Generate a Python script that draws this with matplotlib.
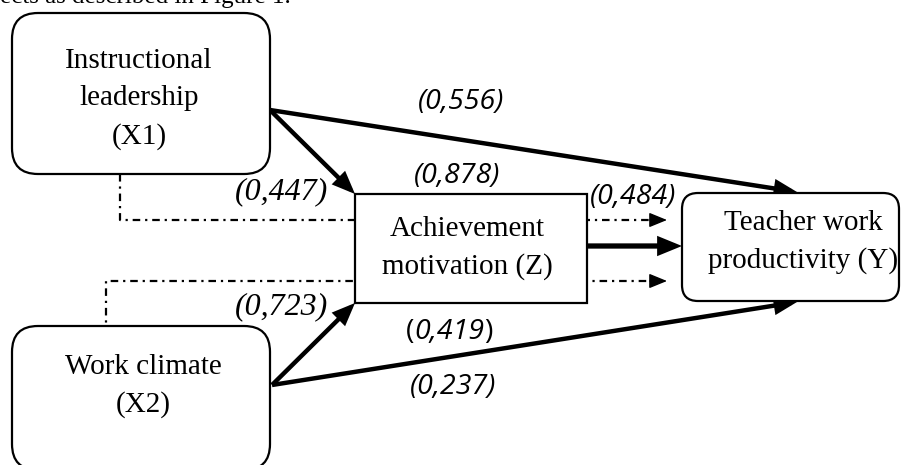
import matplotlib
matplotlib.use("Agg")
import matplotlib.pyplot as plt
from matplotlib.patches import FancyBboxPatch, Rectangle, FancyArrowPatch, ArrowStyle

# ---- data ----
node_names = ["X1", "X2", "Z", "Y"]
node_labels = ["Instructional\nleadership\n(X1)", "Work climate\n(X2)",
               "Achievement\nmotivation (Z)", "Teacher work\nproductivity (Y)"]
direct_coefs = ["(0,556)", "(0,878)", "(0,484)", "(0,237)"]   # X1->Y, X1->Z, Z->Y, X2->Y
indirect_coefs = ["(0,447)", "(0,723)"]                       # X1->Z->Y, X2->Z->Y
mixed_coef = "0,419"
caption = "ects as described in Figure 1."

W, H = 901, 465
fig = plt.figure(figsize=(W / 100, H / 100), dpi=100)
ax = fig.add_axes([0, 0, 1, 1])
ax.set_xlim(0, W)
ax.set_ylim(H, 0)
ax.axis("off")

serif = "Liberation Serif"
sans = "Open Sans"
BOX_FS = 21
LAB_FS = 20.5
LS = 1.58

# caption (cropped at top)
ax.text(0, 3.5, caption, fontsize=18, family=serif, ha="left", va="baseline")

# ---- boxes ----
def rbox(x0, y0, x1, y1, r):
    p = FancyBboxPatch((x0, y0), x1 - x0, y1 - y0,
                       boxstyle=f"round,pad=0,rounding_size={r}",
                       fc="white", ec="black", lw=1.6, zorder=3)
    ax.add_patch(p)

rbox(12, 13, 270, 174, 26)     # X1
rbox(12, 326, 270, 470, 26)    # X2
rbox(682, 193, 899, 301, 16)   # Y
ax.add_patch(Rectangle((355, 194), 232, 109, fc="white", ec="black", lw=1.6, zorder=3))  # Z

ax.text(139, 99, node_labels[0], family=serif, fontsize=BOX_FS, ha="center", va="center",
        linespacing=LS, zorder=4)
ax.text(143, 386, node_labels[1], family=serif, fontsize=BOX_FS, ha="center", va="center",
        linespacing=LS, zorder=4)
ax.text(467, 248, node_labels[2], family=serif, fontsize=BOX_FS, ha="center", va="center",
        linespacing=LS, zorder=4)
ax.text(803, 242, node_labels[3], family=serif, fontsize=BOX_FS, ha="center", va="center",
        linespacing=LS, zorder=4)

# ---- solid arrows ----
head = ArrowStyle("-|>", head_length=11, head_width=4.5)

def arrow(p0, p1, lw=3.2, z=2):
    a = FancyArrowPatch(p0, p1, arrowstyle=head, mutation_scale=1, lw=lw,
                        color="black", shrinkA=0, shrinkB=0, zorder=z,
                        joinstyle="miter", capstyle="butt")
    ax.add_patch(a)

arrow((270, 110), (797, 192))   # X1 -> Y
arrow((270, 110), (355, 194))   # X1 -> Z
arrow((272, 385), (355, 303))   # X2 -> Z
arrow((272, 385), (797, 302))   # X2 -> Y
arrow((587, 246), (682, 246), lw=3.8, z=4)   # Z -> Y

# ---- dash-dot indirect paths ----
dd = (0, (3.4, 2.2, 1.0, 2.2))
ax.plot([120, 120, 655], [174, 220, 220], color="black", lw=1.6, linestyle=dd, zorder=1)
ax.plot([106, 106, 655], [335, 281, 281], color="black", lw=1.6, linestyle=dd, zorder=1)
for yy in (220, 281):
    a = FancyArrowPatch((650, yy), (667, yy), arrowstyle=head, mutation_scale=1, lw=1.0,
                        color="black", shrinkA=0, shrinkB=0, zorder=4)
    ax.add_patch(a)

# ---- coefficient labels ----
def slab(x, y, s):
    ax.text(x, y, s, family=sans, style="italic", fontsize=LAB_FS, ha="center", va="center", zorder=5)

slab(461, 102, direct_coefs[0])
slab(457, 176, direct_coefs[1])
slab(633, 197, direct_coefs[2])
slab(453, 387, direct_coefs[3])

ax.text(281, 192, indirect_coefs[0], family=serif, style="italic", fontsize=23,
        ha="center", va="center", zorder=5)
ax.text(281, 307, indirect_coefs[1], family=serif, style="italic", fontsize=23,
        ha="center", va="center", zorder=5)

# mixed-style "(0,419)": upright parens, italic digits
t1 = ax.text(406, 332, "(", family=sans, fontsize=LAB_FS, ha="left", va="center", zorder=5)
t2 = ax.annotate(mixed_coef, xy=(1, 0), xycoords=t1, family=sans, style="italic",
                 fontsize=LAB_FS, ha="left", va="bottom", zorder=5)
t3 = ax.annotate(")", xy=(1, 0), xycoords=t2, family=sans, fontsize=LAB_FS,
                 ha="left", va="bottom", zorder=5)

fig.savefig("out.png", dpi=100)
